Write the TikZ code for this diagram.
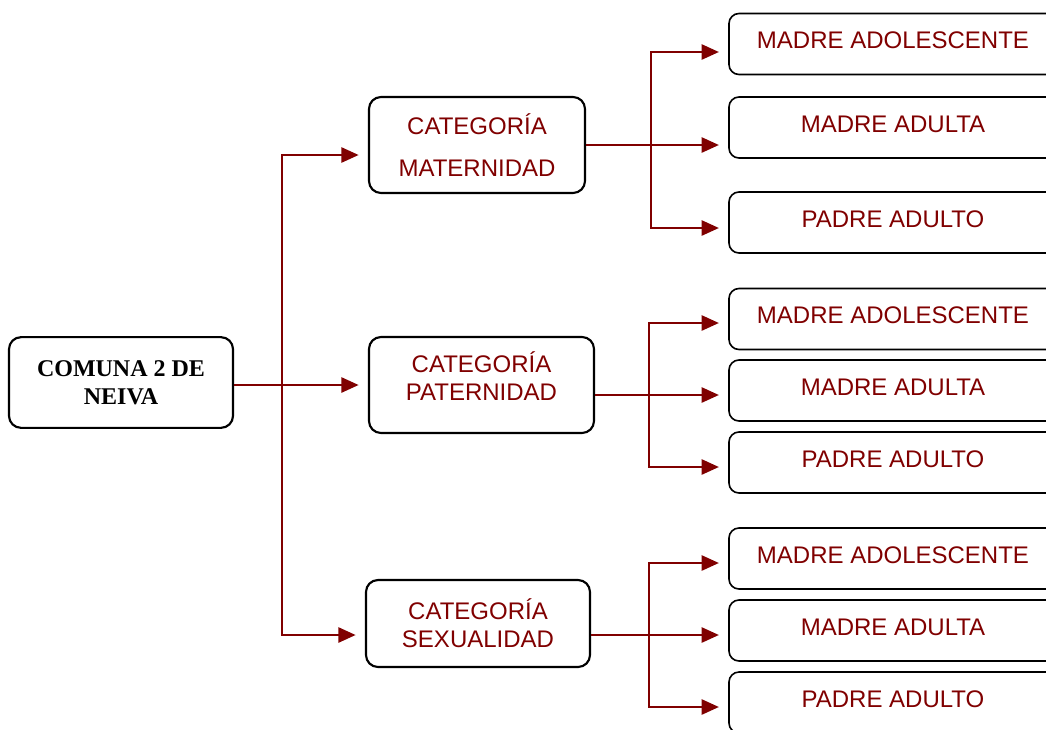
\documentclass[tikz,border=0pt]{standalone}
\usepackage{fontspec}
\setmainfont{Liberation Sans}
\newfontfamily\rootfont{Liberation Serif}
\usetikzlibrary{arrows.meta,calc}
\definecolor{darkred}{RGB}{128,0,0}
\tikzset{
  rootbox/.style={draw,line width=1.6pt,rounded corners=9pt,minimum width=168pt,minimum height=68pt,align=center,font=\rootfont\bfseries\fontsize{18}{21}\selectfont},
  catbox/.style={draw,line width=1.6pt,rounded corners=9pt,minimum height=72pt,align=center,text=darkred,font=\fontsize{18}{21}\selectfont},
  leafbox/.style={draw,line width=1.2pt,rounded corners=7.5pt,minimum width=246pt,minimum height=45.75pt,inner sep=0pt,text height=14pt,text depth=7.25pt,text=darkred,font=\fontsize{18}{21}\selectfont},
  link/.style={draw=darkred,line width=1.4pt},
  arr/.style={link,-{Triangle[length=13pt,width=11.5pt]},shorten >=7pt},
}
\begin{document}
\begin{tikzpicture}[x=0.75pt,y=-0.75pt]
    \useasboundingbox (0,0) rectangle (1046,729);
    \clip (0,0) rectangle (1046,729);
    % main boxes
    \node[rootbox] at (121,382.5) (root) {COMUNA 2 DE\\NEIVA};
    \node[catbox,minimum width=162pt] at (477,145) (cat1) {CATEGORÍA\\[10.5pt]MATERNIDAD};
    \node[catbox,minimum width=168.75pt] at (481.5,385) (cat2) {CATEGORÍA\\PATERNIDAD\\[-8pt]};
    \node[catbox,minimum width=168pt,minimum height=65.25pt] at (478,623.5) (cat3) {CATEGORÍA\\SEXUALIDAD};
    % leaves
    \node[leafbox] at (893,44) (l11) {MADRE ADOLESCENTE};
    \node[leafbox] at (893,127.5) (l12) {MADRE ADULTA};
    \node[leafbox] at (893,222.5) (l13) {PADRE ADULTO};
    \node[leafbox] at (893,319) (l21) {MADRE ADOLESCENTE};
    \node[leafbox] at (893,390.5) (l22) {MADRE ADULTA};
    \node[leafbox] at (893,462.5) (l23) {PADRE ADULTO};
    \node[leafbox] at (893,558.5) (l31) {MADRE ADOLESCENTE};
    \node[leafbox] at (893,630.5) (l32) {MADRE ADULTA};
    \node[leafbox] at (893,702.5) (l33) {PADRE ADULTO};
    % trunk
    \coordinate (t) at (282,385);
    \draw[arr] (root.east |- cat2) -- (cat2);
    \draw[arr] (t) |- ($(cat1.west)+(0,10)$);
    \draw[arr] (t) |- ($(cat3.west)+(0,11.5)$);
    % branches
    \coordinate (b1) at (651,145);
    \coordinate (b2) at (649,395);
    \coordinate (b3) at (649,635);
    \draw[link] (cat1.east |- b1) -- (b1);
    \draw[arr] (b1) |- ($(l11.west)+(0,8)$);
    \draw[arr] (b1) -- (l12.west |- b1);
    \draw[arr] (b1) |- ($(l13.west)+(0,5.5)$);
    \draw[link] (cat2.east |- b2) -- (b2);
    \draw[arr] (b2) |- ($(l21.west)+(0,4)$);
    \draw[arr] (b2) -- (l22.west |- b2);
    \draw[arr] (b2) |- ($(l23.west)+(0,4.5)$);
    \draw[link] (cat3.east |- b3) -- (b3);
    \draw[arr] (b3) |- ($(l31.west)+(0,4.5)$);
    \draw[arr] (b3) -- (l32.west |- b3);
    \draw[arr] (b3) |- ($(l33.west)+(0,4.5)$);
\end{tikzpicture}
\end{document}
